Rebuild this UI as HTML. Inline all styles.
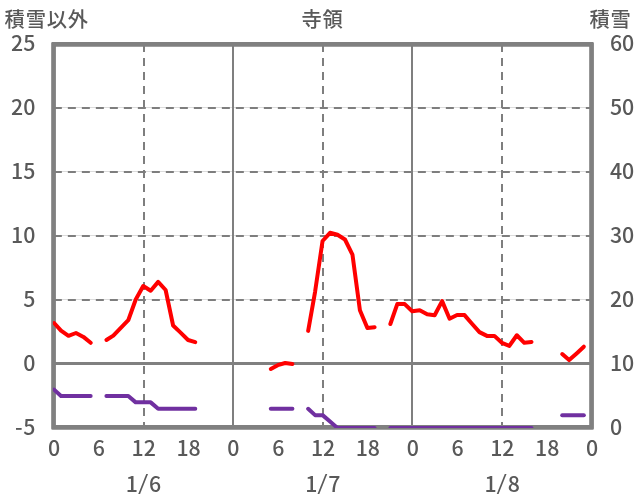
<!DOCTYPE html>
<html lang="ja">
<head>
<meta charset="utf-8">
<title>寺領</title>
<style>
html,body{margin:0;padding:0;background:#fff;}
body{width:636px;height:501px;overflow:hidden;}
svg{display:block;}
text{font-family:"Noto Sans CJK JP","Liberation Sans",sans-serif;font-size:21.33px;font-weight:500;fill:#595959;}
text.t{font-size:20.3px;letter-spacing:0.8px;}
</style>
</head>
<body>
<svg xmlns="http://www.w3.org/2000/svg" width="636" height="501" viewBox="0 0 636 501">
<rect x="0" y="0" width="636" height="501" fill="#ffffff"/>

<g fill="none">
<line x1="53.55" y1="299.50" x2="591.55" y2="299.50" stroke="#dcdcdc" stroke-width="1"/>
<line x1="53.85" y1="300" x2="591.55" y2="300" stroke="#7e7e7e" stroke-width="2" stroke-dasharray="8 6"/>
<line x1="53.55" y1="235.50" x2="591.55" y2="235.50" stroke="#dcdcdc" stroke-width="1"/>
<line x1="53.85" y1="236" x2="591.55" y2="236" stroke="#7e7e7e" stroke-width="2" stroke-dasharray="8 6"/>
<line x1="53.55" y1="171.50" x2="591.55" y2="171.50" stroke="#dcdcdc" stroke-width="1"/>
<line x1="53.85" y1="172" x2="591.55" y2="172" stroke="#7e7e7e" stroke-width="2" stroke-dasharray="8 6"/>
<line x1="53.55" y1="107.50" x2="591.55" y2="107.50" stroke="#dcdcdc" stroke-width="1"/>
<line x1="53.85" y1="108" x2="591.55" y2="108" stroke="#7e7e7e" stroke-width="2" stroke-dasharray="8 6"/>
<line x1="144" y1="43.90" x2="144" y2="427.40" stroke="#7e7e7e" stroke-width="2" stroke-dasharray="8 6"/>
<line x1="233" y1="43.90" x2="233" y2="427.40" stroke="#7f7f7f" stroke-width="2"/>
<line x1="323" y1="43.90" x2="323" y2="427.40" stroke="#7e7e7e" stroke-width="2" stroke-dasharray="8 6"/>
<line x1="412" y1="43.90" x2="412" y2="427.40" stroke="#7f7f7f" stroke-width="2"/>
<line x1="502" y1="43.90" x2="502" y2="427.40" stroke="#7e7e7e" stroke-width="2" stroke-dasharray="8 6"/>
<line x1="53.55" y1="363.5" x2="591.55" y2="363.5" stroke="#808080" stroke-width="2.8"/>
<path d="M52.49 41.99 H592.61 A1.30 1.30 0 0 1 593.91 43.29 V428.46 A1.30 1.30 0 0 1 592.61 429.76 H52.49 A1.30 1.30 0 0 1 51.19 428.46 V43.29 A1.30 1.30 0 0 1 52.49 41.99 Z M55.91 46.71 V425.04 H589.19 V46.71 Z" fill="#808080" fill-rule="evenodd"/>
</g>
<clipPath id="pc"><rect x="52.88" y="43.68" width="539.34" height="384.4"/></clipPath>
<g fill="none" stroke-linecap="round" stroke-linejoin="round" stroke-width="4" clip-path="url(#pc)">
<path d="M54.10 389.60 L61.02 395.98 L68.49 395.98 L75.97 395.98 L83.44 395.98 L90.66 395.98" stroke="#7030a0"/>
<path d="M106.41 395.98 L113.33 395.98 L120.80 395.98 L128.27 395.98 L135.74 402.36 L143.22 402.36 L150.69 402.36 L158.16 408.75 L165.63 408.75 L173.11 408.75 L180.58 408.75 L188.05 408.75 L195.27 408.75" stroke="#7030a0"/>
<path d="M270.79 408.75 L277.72 408.75 L285.19 408.75 L292.41 408.75" stroke="#7030a0"/>
<path d="M308.16 408.75 L315.08 415.13 L322.55 415.13 L330.02 421.52 L337.49 427.90 L344.97 427.90 L352.44 427.90 L359.91 427.90 L367.38 427.90 L374.61 427.90" stroke="#7030a0"/>
<path d="M390.35 427.90 L397.27 427.90 L404.74 427.90 L412.22 427.90 L419.69 427.90 L427.16 427.90 L434.63 427.90 L442.11 427.90 L449.58 427.90 L457.05 427.90 L464.52 427.90 L471.99 427.90 L479.47 427.90 L486.94 427.90 L494.41 427.90 L501.88 427.90 L509.36 427.90 L516.83 427.90 L524.30 427.90 L531.52 427.90" stroke="#7030a0"/>
<path d="M562.21 415.13 L569.13 415.13 L576.61 415.13 L583.83 415.13" stroke="#7030a0"/>
<path d="M54.10 323.00 L61.02 330.60 L68.49 335.85 L75.97 333.00 L83.44 336.90 L90.66 342.80" stroke="#ff0000"/>
<path d="M106.41 340.00 L113.33 335.60 L120.80 327.80 L128.27 320.20 L135.74 299.50 L143.22 286.00 L150.69 290.70 L158.16 281.90 L165.63 290.00 L173.11 325.50 L180.58 332.60 L188.05 340.00 L195.27 342.10" stroke="#ff0000"/>
<path d="M270.79 369.00 L277.72 365.20 L285.19 363.00 L292.41 364.00" stroke="#ff0000"/>
<path d="M308.16 330.90 L315.08 291.80 L322.55 241.00 L330.02 232.80 L337.49 234.80 L344.97 239.50 L352.44 254.60 L359.91 310.20 L367.38 328.05 L374.61 327.20" stroke="#ff0000"/>
<path d="M390.35 324.00 L397.27 304.10 L404.74 304.10 L412.22 311.20 L419.69 310.20 L427.16 314.20 L434.63 315.20 L442.11 301.10 L449.58 318.70 L457.05 315.00 L464.52 315.10 L471.99 323.70 L479.47 332.10 L486.94 335.90 L494.41 335.90 L501.88 342.80 L509.36 345.90 L516.83 335.25 L524.30 342.80 L531.52 341.90" stroke="#ff0000"/>
<path d="M562.21 354.00 L569.13 360.10 L576.61 353.40 L583.83 346.70" stroke="#ff0000"/>
</g>
<g>
<text class="t" x="4.6" y="26.9">積雪以外</text>
<text class="t" x="301.4" y="26.9">寺領</text>
<text class="t" x="589.4" y="26.9">積雪</text>
<text x="14.9 23.23" y="434.89">-5</text>
<text x="35.4" y="370.91" text-anchor="end">0</text>
<text x="35.4" y="306.93" text-anchor="end">5</text>
<text x="35.4" y="242.95" text-anchor="end">10</text>
<text x="35.4" y="178.97" text-anchor="end">15</text>
<text x="35.4" y="114.99" text-anchor="end">20</text>
<text x="35.4" y="51.01" text-anchor="end">25</text>
<text x="609.9" y="434.89">0</text>
<text x="609.9" y="370.91">10</text>
<text x="609.9" y="306.93">20</text>
<text x="609.9" y="242.95">30</text>
<text x="609.9" y="178.97">40</text>
<text x="609.9" y="114.99">50</text>
<text x="609.9" y="51.01">60</text>
<text x="54.05" y="455.5" text-anchor="middle">0</text>
<text x="98.88" y="455.5" text-anchor="middle">6</text>
<text x="143.72" y="455.5" text-anchor="middle">12</text>
<text x="188.55" y="455.5" text-anchor="middle">18</text>
<text x="233.38" y="455.5" text-anchor="middle">0</text>
<text x="278.22" y="455.5" text-anchor="middle">6</text>
<text x="323.05" y="455.5" text-anchor="middle">12</text>
<text x="367.88" y="455.5" text-anchor="middle">18</text>
<text x="412.72" y="455.5" text-anchor="middle">0</text>
<text x="457.55" y="455.5" text-anchor="middle">6</text>
<text x="502.38" y="455.5" text-anchor="middle">12</text>
<text x="547.22" y="455.5" text-anchor="middle">18</text>
<text x="592.05" y="455.5" text-anchor="middle">0</text>
<text y="491.7"><tspan x="125.87">1</tspan><tspan x="137.92" dy="-1.3" font-weight="400" font-size="20.6" textLength="10.4" lengthAdjust="spacingAndGlyphs">/</tspan><tspan x="148.97" dy="1.3">6</tspan></text>
<text y="491.7"><tspan x="305.20">1</tspan><tspan x="317.25" dy="-1.3" font-weight="400" font-size="20.6" textLength="10.4" lengthAdjust="spacingAndGlyphs">/</tspan><tspan x="328.30" dy="1.3">7</tspan></text>
<text y="491.7"><tspan x="484.53">1</tspan><tspan x="496.58" dy="-1.3" font-weight="400" font-size="20.6" textLength="10.4" lengthAdjust="spacingAndGlyphs">/</tspan><tspan x="507.63" dy="1.3">8</tspan></text>
</g>
</svg>
</body>
</html>
